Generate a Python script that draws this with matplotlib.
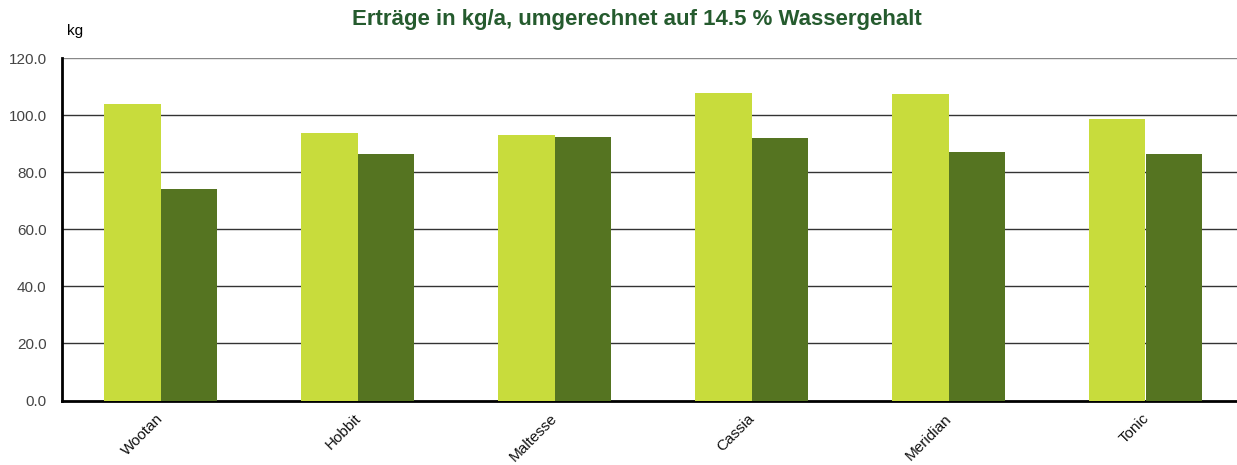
import matplotlib
matplotlib.use("Agg")
import matplotlib.pyplot as plt
from matplotlib import font_manager
from matplotlib.transforms import ScaledTranslation
import numpy as np

# --------------------------------------------------
# DATA
# --------------------------------------------------
sorten = ["Wootan", "Hobbit", "Maltesse", "Cassia", "Meridian", "Tonic"]
ertrag_hell = [103.9, 93.6, 93.1, 107.6, 107.4, 98.5]
ertrag_dunkel = [74.0, 86.2, 92.2, 91.8, 86.9, 86.3]
y_ticks = [0, 20, 40, 60, 80, 100, 120]

plt.rcParams["font.family"] = ["Liberation Sans", "DejaVu Sans"]

# make sure the bold title uses the normal-width Liberation Sans, not Narrow
bold_file = None
for f in font_manager.fontManager.ttflist:
    if f.name == "Liberation Sans" and f.weight in (700, "bold") and f.style == "normal" \
            and "Narrow" not in f.fname:
        bold_file = f.fname
        break
title_font = font_manager.FontProperties(fname=bold_file, size=16) if bold_file \
    else font_manager.FontProperties(family="Liberation Sans", weight="bold", size=16)

W, H = 1237, 465
fig = plt.figure(figsize=(W / 100, H / 100), dpi=100)
# axes runs a bit past the right edge, like in the original
ax = fig.add_axes([62 / W, 1 - 400.5 / H, 1182 / W, 342.5 / H])

x = np.arange(len(sorten))
w = 0.287
ax.bar(x - w / 2, ertrag_hell, w, color="#c8dc3c", zorder=3)
ax.bar(x + w / 2, ertrag_dunkel, w, color="#557421", zorder=3)

ax.set_xlim(-0.5, len(sorten) - 0.5)
ax.set_ylim(0, 120)
ax.set_yticks(y_ticks)
ax.set_yticklabels([f"{v:.1f}" for v in y_ticks], color="#444444", fontsize=11)
ax.set_xticks(x)
ax.set_xticklabels(sorten, rotation=45, ha="right", rotation_mode="anchor",
                   fontsize=11, color="#111111")
ax.tick_params(axis="y", length=0, pad=11)
ax.tick_params(axis="x", length=0, pad=8)
shift = ScaledTranslation(-4 / 100, 0, fig.dpi_scale_trans)
for lbl in ax.get_xticklabels():
    lbl.set_transform(lbl.get_transform() + shift)

# horizontal grid
for v in y_ticks[1:-1]:
    ax.axhline(v, color="#333333", lw=1, zorder=1)
ax.axhline(120, color="#888888", lw=1, zorder=1)

for s in ["top", "right"]:
    ax.spines[s].set_visible(False)
ax.spines["left"].set_linewidth(2)
ax.spines["bottom"].set_linewidth(2)

fig.text(75 / W, 1 - 31 / H, "kg", fontsize=11, ha="center", va="center")
fig.text(637 / W, 1 - 20 / H, "Erträge in kg/a, umgerechnet auf 14.5 % Wassergehalt",
         fontproperties=title_font, color="#255b2e", ha="center", va="center")

fig.savefig("out.png", dpi=100)
